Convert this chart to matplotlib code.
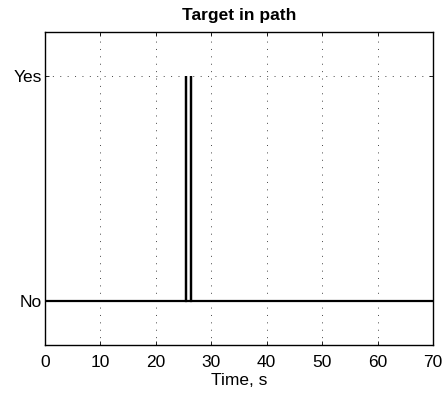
import numpy as np
import matplotlib
matplotlib.use("Agg")
import matplotlib.pyplot as plt

plt.rcParams['font.family'] = ['Liberation Sans', 'DejaVu Sans']

# Detection signal: instants (s) when the target was found in the path
detection_times = [25.4, 26.3]
time_span = [0, 70]
state_labels = ["No", "Yes"]
state_values = [0, 1]
x_ticks = [0, 10, 20, 30, 40, 50, 60, 70]

# Build the binary signal as a step trace
t = [time_span[0]]
y = [state_values[0]]
for dt in detection_times:
    t += [dt, dt, dt]
    y += [state_values[0], state_values[1], state_values[0]]
t.append(time_span[1])
y.append(state_values[0])

fig = plt.figure(figsize=(4.43, 3.94), dpi=100)
ax = fig.add_axes([0.1016, 0.1231, 0.9774 - 0.1016, 0.9198 - 0.1231])

ax.plot(t, y, color='black', lw=1.6, solid_joinstyle='miter')

ax.set_xlim(time_span)
ax.set_ylim(-0.2, 1.2)
ax.set_xticks(x_ticks)
ax.set_yticks(state_values)
ax.set_yticklabels(state_labels)
ax.tick_params(direction='in', length=3, labelsize=12.5, width=0.6,
               top=True, right=True)
ax.tick_params(axis='x', pad=6.5)
ax.tick_params(axis='y', pad=2)
ax.grid(True, linestyle=(0, (1, 6.6)), color='#444444', lw=0.7)
for s in ax.spines.values():
    s.set_linewidth(1.0)

ax.set_title("Target in path", fontsize=12.5, fontweight='bold', pad=8)
ax.set_xlabel("Time, s", fontsize=12.5, labelpad=2.5)

fig.savefig("out.png", dpi=100)
